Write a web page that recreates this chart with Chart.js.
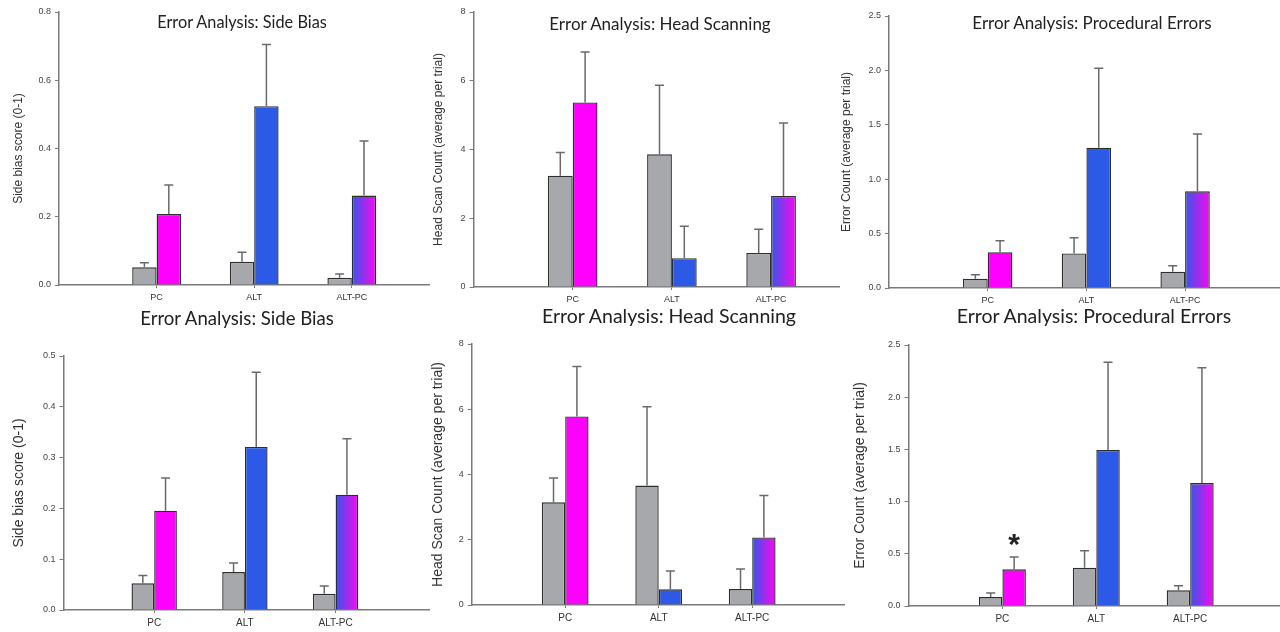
<!DOCTYPE html>
<html>
<head>
<meta charset="utf-8">
<title>Error Analysis</title>
<script src="https://cdn.jsdelivr.net/npm/chart.js@4.4.1/dist/chart.umd.min.js"></script>
<style>
  body { margin: 0; background: #fff; width: 1280px; height: 632px; position: relative; overflow: hidden; }
  canvas { position: absolute; }
  .title { position: absolute; transform: translate(-50%, -50%); font-family: Lato, "Open Sans", sans-serif; color: #222; white-space: nowrap; z-index: 5; }
  .top { font-size: 17px; }
  .bottom { font-size: 19.5px; }
</style>
</head>
<body>
<div class="title top" style="left:242px; top:21px; font-size:16.3px">Error Analysis: Side Bias</div>
<div class="title top" style="left:660px; top:23px">Error Analysis: Head Scanning</div>
<div class="title top" style="left:1092px; top:22px">Error Analysis: Procedural Errors</div>
<div class="title bottom" style="left:237px; top:318px; font-size:18.6px">Error Analysis: Side Bias</div>
<div class="title bottom" style="left:669px; top:315px">Error Analysis: Head Scanning</div>
<div class="title bottom" style="left:1094px; top:315px">Error Analysis: Procedural Errors</div>

<canvas id="sideBiasTop"></canvas>
<canvas id="headScanTop"></canvas>
<canvas id="procTop"></canvas>
<canvas id="sideBiasBottom"></canvas>
<canvas id="headScanBottom"></canvas>
<canvas id="procBottom"></canvas>

<script>
const groups = ["PC", "ALT", "ALT-PC"]

// top row
const sideBiasTopGrey = [0.052, 0.068, 0.021]
const sideBiasTopGreyErr = [0.013, 0.028, 0.011]
const sideBiasTopColour = [0.208, 0.524, 0.262]
const sideBiasTopColourErr = [0.085, 0.181, 0.160]

const headScanTopGrey = [3.24, 3.86, 0.99]
const headScanTopGreyErr = [0.67, 2.01, 0.69]
const headScanTopColour = [5.37, 0.84, 2.65]
const headScanTopColourErr = [1.47, 0.93, 2.12]

const procTopGrey = [0.086, 0.318, 0.15]
const procTopGreyErr = [0.036, 0.145, 0.055]
const procTopColour = [0.328, 1.29, 0.889]
const procTopColourErr = [0.107, 0.73, 0.526]

// bottom row
const sideBiasBottomGrey = [0.0525, 0.0748, 0.032]
const sideBiasBottomGreyErr = [0.0155, 0.0177, 0.015]
const sideBiasBottomColour = [0.1955, 0.321, 0.227]
const sideBiasBottomColourErr = [0.0645, 0.147, 0.110]

const headScanBottomGrey = [3.15, 3.66, 0.49]
const headScanBottomGreyErr = [0.74, 2.42, 0.61]
const headScanBottomColour = [5.78, 0.48, 2.07]
const headScanBottomColourErr = [1.53, 0.56, 1.29]

const procBottomGrey = [0.086, 0.367, 0.150]
const procBottomGreyErr = [0.039, 0.163, 0.045]
const procBottomColour = [0.351, 1.494, 1.178]
const procBottomColourErr = [0.118, 0.84, 1.105]
const procBottomStars = ["*", "", ""]

const sideBiasTicks = { max: 0.8, step: 0.2, decimals: 1 }
const headScanTicks = { max: 8, step: 2, decimals: 0 }
const procTicks = { max: 2.5, step: 0.5, decimals: 1 }
const sideBiasBottomTicks = { max: 0.5, step: 0.1, decimals: 1 }

Chart.defaults.font.family = "'Liberation Sans', Arial, sans-serif"
Chart.defaults.color = "#444"

const axisGrey = "#7a7a7a"
const barGrey = "#a7a8ab"
const colourList = ["#ff00ff", "#2c5ae6"]

function colourFill(ctx) {
  if (ctx.type !== "data") return "#ff00ff"
  if (ctx.dataIndex < 2) return colourList[ctx.dataIndex]
  let chart = ctx.chart
  let xs = chart.scales.x
  if (!chart.chartArea || !xs) return "#9040f0"
  let unit = xs.getPixelForValue(1) - xs.getPixelForValue(0)
  let c = xs.getPixelForValue(ctx.dataIndex + 1)
  let g = chart.ctx.createLinearGradient(c, 0, c + unit * 0.25, 0)
  g.addColorStop(0, "#3556ea")
  g.addColorStop(1, "#f808f0")
  return g
}

const errorBars = {
  id: "errorBars",
  afterDatasetsDraw(chart) {
    let ctx = chart.ctx
    let ys = chart.scales.y
    chart.data.datasets.forEach((ds, di) => {
      let meta = chart.getDatasetMeta(di)
      meta.data.forEach((bar, i) => {
        let top = ys.getPixelForValue(ds.data[i].y + ds.errors[i])
        ctx.save()
        ctx.strokeStyle = "#6a6a6a"
        ctx.lineWidth = 1.5
        ctx.beginPath()
        ctx.moveTo(bar.x, bar.y)
        ctx.lineTo(bar.x, top)
        ctx.moveTo(bar.x - 4.5, top)
        ctx.lineTo(bar.x + 4.5, top)
        ctx.stroke()
        if (ds.stars && ds.stars[i]) {
          ctx.fillStyle = "#222"
          ctx.font = "bold 30px 'Liberation Sans', Arial, sans-serif"
          ctx.textAlign = "center"
          ctx.textBaseline = "alphabetic"
          ctx.fillText(ds.stars[i], bar.x, top - 3)
        }
        ctx.restore()
      })
    })
  }
}

function drawPanel(id, box, yTitle, tickSet, grey, greyErr, colour, colourErr, big, stars) {
  let canvas = document.getElementById(id)
  canvas.width = box.right - box.left
  canvas.height = box.zero - box.top + 10 + 25
  canvas.style.left = box.left + "px"
  canvas.style.top = (box.top - 10) + "px"

  let titleSize = big ? 14 : 12

  new Chart(canvas, {
    type: "bar",
    data: {
      datasets: [
        {
          data: grey.map((v, i) => ({ x: i + 1, y: v })),
          errors: greyErr,
          backgroundColor: barGrey,
          borderColor: "#2e2e2e",
          borderWidth: 1.4,
        },
        {
          data: colour.map((v, i) => ({ x: i + 1, y: v })),
          errors: colourErr,
          stars: stars,
          backgroundColor: colourFill,
          borderColor: "#2e2e2e",
          borderWidth: 1.4,
        },
      ],
    },
    options: {
      responsive: false,
      animation: false,
      barPercentage: 1,
      categoryPercentage: 0.5,
      layout: { padding: { top: 10, left: 0, right: 0, bottom: 0 } },
      plugins: { legend: { display: false }, tooltip: { enabled: false } },
      scales: {
        x: {
          type: "linear",
          offset: false,
          min: 0,
          max: (box.right - box.axisX) / box.unit,
          afterBuildTicks: (s) => { s.ticks = groups.map((g, i) => ({ value: i + 1 })) },
          afterFit: (s) => { s.height = 25 },
          ticks: {
            callback: (v) => groups[v - 1] || "",
            font: { size: big ? 10 : 9 },
            color: "#333",
            padding: 4,
            maxRotation: 0,
            autoSkip: false,
          },
          grid: { offset: false, drawOnChartArea: false, tickLength: 3, color: axisGrey },
          border: { color: axisGrey, width: 1.5 },
        },
        y: {
          min: 0,
          max: tickSet.max,
          afterFit: (s) => { s.width = box.axisX - box.left },
          ticks: {
            stepSize: tickSet.step,
            callback: (v) => v.toFixed(tickSet.decimals),
            font: { size: 9 },
            color: "#444",
            padding: 4,
          },
          grid: { drawOnChartArea: false, tickLength: 4, color: axisGrey },
          border: { color: axisGrey, width: 1.5 },
          title: {
            display: true,
            text: yTitle,
            color: "#333",
            font: { size: titleSize },
            padding: { top: box.titlePad, bottom: 0 },
          },
        },
      },
    },
    plugins: [errorBars],
  })
}

drawPanel("sideBiasTop", { left: 0, axisX: 59, top: 12, zero: 285, right: 430, unit: 97.6, titlePad: 11 },
  "Side bias score (0-1)", sideBiasTicks,
  sideBiasTopGrey, sideBiasTopGreyErr, sideBiasTopColour, sideBiasTopColourErr, false)

drawPanel("headScanTop", { left: 420, axisX: 473.5, top: 11.7, zero: 287.3, right: 840, unit: 99.2, titlePad: 11 },
  "Head Scan Count (average per trial)", headScanTicks,
  headScanTopGrey, headScanTopGreyErr, headScanTopColour, headScanTopColourErr, false)

drawPanel("procTop", { left: 830, axisX: 889, top: 16, zero: 288.3, right: 1280, unit: 98.7, titlePad: 9.5 },
  "Error Count (average per trial)", procTicks,
  procTopGrey, procTopGreyErr, procTopColour, procTopColourErr, false)

drawPanel("sideBiasBottom", { left: 0, axisX: 63.5, top: 356, zero: 610, right: 430, unit: 90.7, titlePad: 10.5 },
  "Side bias score (0-1)", sideBiasBottomTicks,
  sideBiasBottomGrey, sideBiasBottomGreyErr, sideBiasBottomColour, sideBiasBottomColourErr, true)

drawPanel("headScanBottom", { left: 420, axisX: 471.7, top: 344.3, zero: 606, right: 845, unit: 93.5, titlePad: 10 },
  "Head Scan Count (average per trial)", headScanTicks,
  headScanBottomGrey, headScanBottomGreyErr, headScanBottomColour, headScanBottomColourErr, true)

drawPanel("procBottom", { left: 830, axisX: 908.5, top: 345, zero: 606, right: 1280, unit: 93.9, titlePad: 22 },
  "Error Count (average per trial)", procTicks,
  procBottomGrey, procBottomGreyErr, procBottomColour, procBottomColourErr, true, procBottomStars)
</script>
</body>
</html>
